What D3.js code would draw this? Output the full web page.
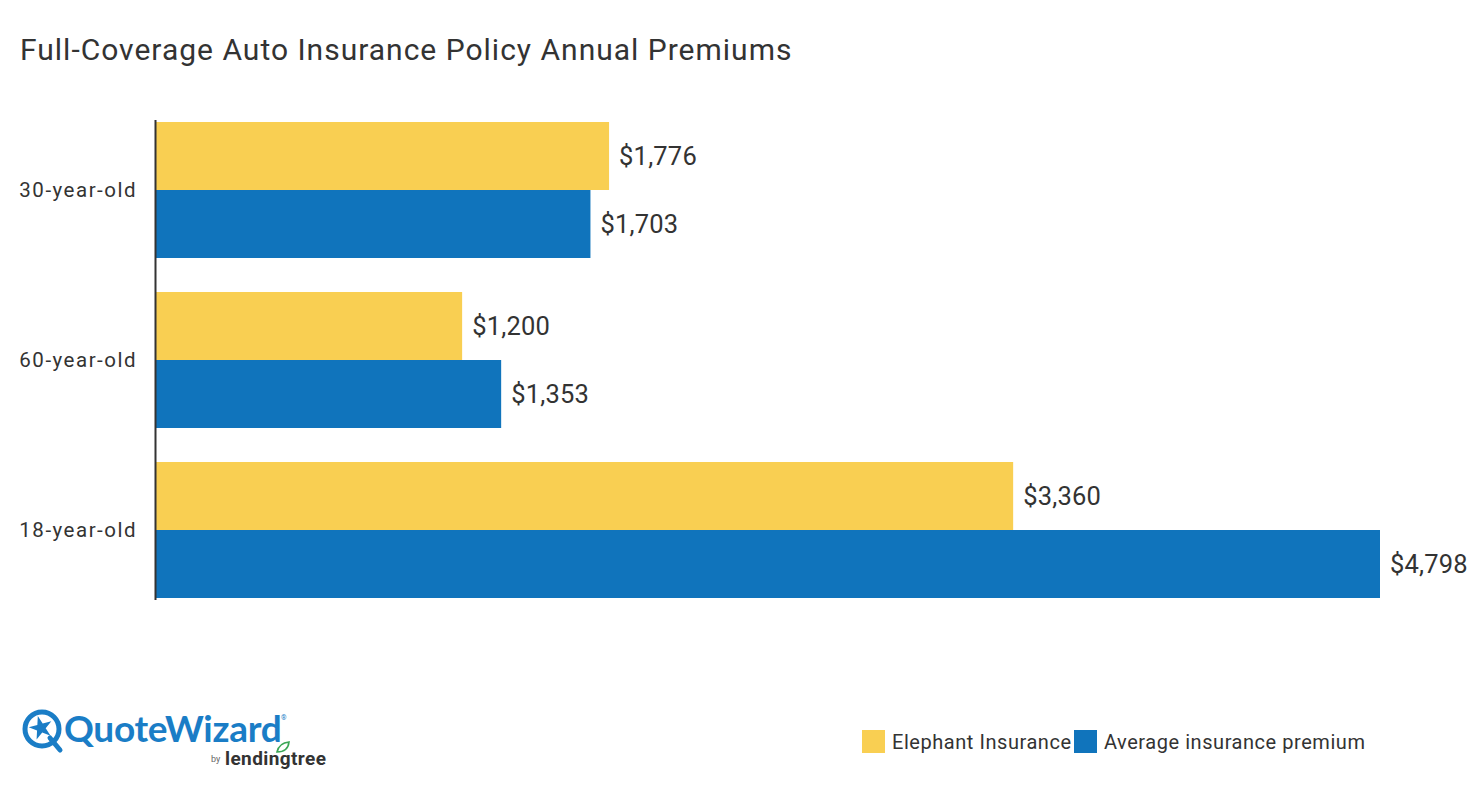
<!DOCTYPE html>
<html>
<head>
<meta charset="utf-8">
<script src="https://cdn.jsdelivr.net/npm/d3@7"></script>
<style>
  html, body { margin: 0; padding: 0; background: #fff; }
  svg text { font-family: Roboto, "Noto Sans", sans-serif; }
</style>
</head>
<body>
<svg id="chart" width="1472" height="786"></svg>
<script>
const categories = ["30-year-old", "60-year-old", "18-year-old"];
const seriesNames = ["Elephant Insurance", "Average insurance premium"];
const elephantValues = [1776, 1200, 3360];
const averageValues = [1703, 1353, 4798];
const colors = ["#F9CF52", "#1074BC"];
const title = "Full-Coverage Auto Insurance Policy Annual Premiums";

const svg = d3.select("#chart");
const textColor = "#333333";

svg.append("text")
  .attr("x", 20).attr("y", 60)
  .attr("font-size", 30).attr("fill", textColor)
  .attr("letter-spacing", "1")
  .text(title);

const x = d3.scaleLinear().domain([0, d3.max(averageValues.concat(elephantValues))]).range([156, 1380]);
const y0 = d3.scaleBand().domain(categories).range([122, 598]).paddingInner(0.2).paddingOuter(0);
const y1 = d3.scaleBand().domain(seriesNames).range([0, y0.bandwidth()]).padding(0);

const rows = categories.map((c, i) => ({
  cat: c,
  vals: [
    { name: seriesNames[0], v: elephantValues[i] },
    { name: seriesNames[1], v: averageValues[i] }
  ]
}));

const g = svg.selectAll("g.grp").data(rows).enter().append("g")
  .attr("class", "grp")
  .attr("transform", d => `translate(0,${y0(d.cat)})`);

g.selectAll("rect").data(d => d.vals).enter().append("rect")
  .attr("x", x(0))
  .attr("y", d => y1(d.name))
  .attr("width", d => x(d.v) - x(0))
  .attr("height", y1.bandwidth())
  .attr("fill", (d, i) => colors[i]);

const fmt = d3.format(",");
g.selectAll("text.val").data(d => d.vals).enter().append("text")
  .attr("class", "val")
  .attr("x", d => x(d.v) + 10)
  .attr("y", d => y1(d.name) + y1.bandwidth() / 2)
  .attr("dy", "0.36em")
  .attr("font-size", 25.5).attr("fill", textColor)
  .attr("letter-spacing", "0.2")
  .text(d => "$" + fmt(d.v));

// y axis
const yAxis = d3.axisLeft(y0).tickSize(0).tickPadding(19);
const ya = svg.append("g").attr("transform", `translate(${x(0)},0)`).call(yAxis);
ya.select(".domain").remove();
ya.selectAll("text").attr("font-size", 20.5).attr("fill", textColor)
  .attr("letter-spacing", "1.5")
  .style("font-family", "Roboto, 'Noto Sans', sans-serif");
svg.append("line")
  .attr("x1", x(0) - 0.5).attr("x2", x(0) - 0.5)
  .attr("y1", 120).attr("y2", 600)
  .attr("stroke", "#333").attr("stroke-width", 2);

// legend
const legendX = [862, 1074];
const lg = svg.selectAll("g.leg").data(seriesNames).enter().append("g")
  .attr("class", "leg")
  .attr("transform", (d, i) => `translate(${legendX[i]},730)`);
lg.append("rect").attr("width", 23).attr("height", 23).attr("fill", (d, i) => colors[i]);
lg.append("text").attr("x", 30).attr("y", 12).attr("dy", "0.36em")
  .attr("font-size", 20).attr("fill", textColor)
  .attr("letter-spacing", "0.55").text(d => d);

// logo
const logo = svg.append("g");
const blue = "#1A7DC6";
logo.append("circle").attr("cx", 42).attr("cy", 729).attr("r", 17)
  .attr("fill", "none").attr("stroke", blue).attr("stroke-width", 5);
logo.append("line").attr("x1", 50).attr("y1", 738).attr("x2", 60).attr("y2", 750)
  .attr("stroke", blue).attr("stroke-width", 5).attr("stroke-linecap", "round");
const star = d3.symbol().type(d3.symbolStar).size(170);
logo.append("path").attr("d", star()).attr("transform", "translate(41,728) rotate(-15)").attr("fill", blue);
logo.append("text").attr("x", 64).attr("y", 742)
  .attr("font-size", 37).attr("font-weight", 700).attr("fill", blue)
  .attr("letter-spacing", "-0.3")
  .style("font-family", "Lato, 'Noto Sans', sans-serif")
  .text("QuoteWizard");
logo.append("text").attr("x", 281).attr("y", 720).attr("font-size", 7).attr("fill", blue).text("®");
logo.append("text").attr("x", 211).attr("y", 762).attr("font-size", 9).attr("fill", "#666").text("by");
logo.append("text").attr("x", 225).attr("y", 765)
  .attr("font-size", 19).attr("font-weight", 700).attr("fill", "#333")
  .attr("letter-spacing", "0.4")
  .text("lendingtree");
logo.append("path").attr("d", "M277,752 q2,-9 12,-10 q-1,10 -12,10 z")
  .attr("fill", "none").attr("stroke", "#3aa655").attr("stroke-width", 1.6);
</script>
</body>
</html>
